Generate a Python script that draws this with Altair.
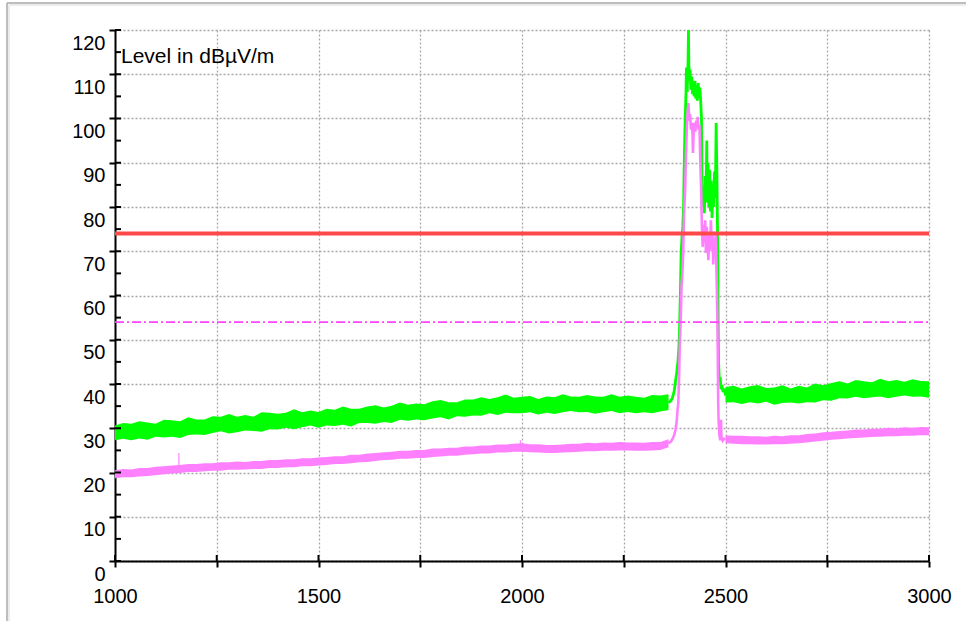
import altair as alt
import pandas as pd

# ---------------- data ----------------
x_ticks = [1000, 1250, 1500, 1750, 2000, 2250, 2500, 2750, 3000]
y_ticks = [0, 5, 10, 15, 20, 25, 30, 35, 40, 45, 50, 55, 60, 65, 70, 75, 80, 85, 90, 95, 100, 105, 110, 115, 120]

# noise floor below the band (MHz, step 20)
floor_left_f = list(range(1000, 2361, 20))
floor_right_f = list(range(2500, 3001, 20))

green_left_hi = [30.6, 31.2, 31.0, 31.6, 31.3, 31.0, 31.9, 31.8, 31.6, 32.5, 32.0, 32.0, 32.7, 32.6, 33.2, 32.6, 33.0,
                 32.6, 33.6, 33.5, 33.3, 33.5, 34.3, 33.6, 34.0, 33.7, 34.4, 34.2, 34.9, 34.4, 34.4, 34.9, 35.2, 34.7,
                 35.1, 35.8, 35.3, 35.6, 35.4, 36.1, 36.4, 35.9, 35.9, 36.5, 36.5, 37.0, 36.6, 37.0, 37.6, 36.9, 37.1,
                 37.3, 36.6, 37.2, 37.0, 37.7, 37.2, 37.1, 37.5, 37.2, 37.1, 37.7, 37.1, 37.4, 37.1, 36.9, 37.5, 37.4,
                 37.7]
green_left_lo = [27.3, 27.6, 27.3, 27.7, 27.4, 28.1, 27.9, 28.1, 27.8, 28.5, 28.6, 28.5, 28.9, 29.3, 28.8, 29.1, 29.5,
                 29.4, 29.2, 29.8, 29.7, 30.1, 29.8, 30.2, 30.6, 30.1, 30.6, 30.5, 30.8, 30.4, 31.2, 31.2, 31.0, 31.4,
                 31.2, 31.9, 31.7, 32.0, 31.8, 32.2, 32.5, 32.0, 32.7, 32.6, 32.9, 32.8, 33.4, 33.0, 33.5, 33.4, 33.4,
                 33.6, 33.1, 33.5, 33.2, 33.6, 33.9, 33.6, 33.7, 33.3, 33.6, 33.9, 33.4, 33.7, 33.4, 33.6, 33.4, 33.8,
                 34.1]
green_right_hi = [39.3, 39.6, 39.0, 39.5, 39.8, 39.1, 39.2, 39.7, 39.0, 39.6, 39.2, 40.1, 39.7, 40.2, 40.6, 40.1, 40.9,
                  40.6, 40.4, 41.2, 40.6, 40.9, 40.5, 41.1, 40.7, 40.6]
green_right_lo = [35.8, 35.9, 35.5, 35.9, 35.6, 36.0, 35.3, 35.7, 35.8, 35.6, 35.9, 35.8, 36.3, 36.2, 36.8, 36.7, 37.1,
                  36.8, 37.0, 37.2, 36.8, 37.1, 37.4, 37.1, 37.2, 36.9]

magenta_left_hi = [20.5, 20.8, 20.7, 21.0, 21.0, 21.3, 21.4, 21.6, 21.7, 21.9, 21.9, 22.1, 22.1, 22.3, 22.3, 22.5, 22.4,
                   22.6, 22.6, 22.8, 22.8, 23.0, 23.0, 23.2, 23.2, 23.4, 23.5, 23.7, 23.7, 24.0, 24.0, 24.3, 24.4, 24.6,
                   24.7, 24.9, 24.9, 25.1, 25.1, 25.4, 25.4, 25.6, 25.6, 25.9, 25.9, 26.1, 26.1, 26.3, 26.3, 26.5, 26.6,
                   26.4, 26.4, 26.2, 26.2, 26.3, 26.5, 26.5, 26.7, 26.6, 26.8, 26.7, 26.9, 26.8, 26.8, 26.7, 26.9, 26.9,
                   27.5]
magenta_left_lo = [18.7, 18.9, 18.9, 19.1, 19.2, 19.4, 19.6, 19.8, 19.9, 20.1, 20.1, 20.3, 20.4, 20.4, 20.6, 20.6, 20.7,
                   20.8, 20.8, 21.0, 21.0, 21.2, 21.2, 21.4, 21.4, 21.6, 21.7, 21.9, 21.9, 22.1, 22.3, 22.4, 22.6, 22.8,
                   22.9, 23.1, 23.1, 23.3, 23.3, 23.5, 23.6, 23.8, 23.8, 24.0, 24.1, 24.3, 24.3, 24.5, 24.5, 24.7, 24.7,
                   24.6, 24.5, 24.4, 24.4, 24.5, 24.6, 24.7, 24.8, 24.8, 24.9, 24.9, 25.0, 25.0, 24.9, 24.9, 25.0, 25.1,
                   25.7]
magenta_right_hi = [28.4, 28.3, 28.3, 28.2, 28.2, 28.1, 28.3, 28.2, 28.4, 28.4, 28.7, 28.8, 29.1, 29.2, 29.4, 29.5, 29.7,
                    29.7, 29.9, 29.9, 30.1, 30.0, 30.2, 30.1, 30.3, 30.2]
magenta_right_lo = [26.6, 26.5, 26.4, 26.4, 26.3, 26.3, 26.4, 26.4, 26.5, 26.6, 26.8, 27.0, 27.2, 27.4, 27.5, 27.7, 27.8,
                    27.9, 28.0, 28.1, 28.2, 28.2, 28.3, 28.3, 28.4, 28.4]

# single-sample spikes on the average trace
spike_f = [1157, 1996]
spike_lo = [20.9, 25.6]
spike_hi = [24.4, 27.3]

# detailed traces across the 2.4 GHz band
green_peak_f = [2360, 2366, 2370, 2374, 2377, 2380, 2383, 2385, 2387, 2389, 2391, 2393, 2395, 2397, 2399, 2401, 2403,
                2404, 2406, 2408, 2409, 2410, 2412, 2413, 2415, 2417, 2419, 2421, 2423, 2425, 2427, 2429, 2431, 2433,
                2435, 2437, 2439, 2441, 2442, 2444, 2446, 2448, 2450, 2452, 2454, 2455, 2457, 2459, 2461, 2463, 2465,
                2467, 2469, 2471, 2473, 2475, 2477, 2479, 2480, 2481, 2482, 2483, 2485, 2487, 2489, 2491, 2494, 2497,
                2500]
green_peak_L = [35.8, 36.2, 37.0, 38.4, 40.5, 42.5, 45.0, 47.5, 52.0, 60.0, 69.6, 73.0, 75.5, 80.0, 92.0, 100.0, 106.0,
                111.5, 106.0, 113.0, 120.0, 112.0, 108.5, 111.0, 106.5, 109.5, 105.5, 108.0, 105.0, 108.5, 104.5, 107.5,
                104.0, 108.0, 105.5, 107.0, 104.0, 100.0, 86.0, 80.0, 84.0, 78.6, 87.0, 81.0, 95.0, 83.0, 90.0, 80.0,
                88.4, 79.0, 86.0, 77.5, 85.0, 80.0, 88.0, 82.0, 99.0, 87.0, 78.0, 69.6, 55.0, 45.0, 40.5, 41.5, 38.8,
                39.8, 38.2, 39.0, 37.4]

magenta_peak_f = [2360, 2366, 2370, 2374, 2377, 2380, 2382, 2384, 2386, 2388, 2390, 2392, 2394, 2396, 2398, 2401, 2403,
                  2405, 2407, 2409, 2411, 2413, 2415, 2417, 2419, 2420, 2422, 2424, 2426, 2428, 2430, 2432, 2434, 2436,
                  2438, 2440, 2442, 2444, 2446, 2448, 2450, 2452, 2454, 2456, 2458, 2460, 2462, 2464, 2466, 2468, 2470,
                  2472, 2474, 2476, 2478, 2480, 2481, 2482, 2483, 2485, 2487, 2488, 2489, 2490, 2493, 2496, 2500]
magenta_peak_L = [26.6, 27.0, 27.6, 28.5, 29.6, 31.5, 34.0, 35.7, 42.0, 50.0, 54.5, 62.0, 65.0, 69.6, 78.0, 84.5, 92.0,
                  98.0, 101.5, 103.5, 99.5, 101.0, 97.5, 99.0, 96.5, 92.2, 97.5, 99.0, 97.0, 99.5, 98.0, 100.4, 97.5,
                  98.5, 90.6, 84.5, 75.5, 71.0, 76.0, 72.0, 77.0, 69.6, 75.5, 71.0, 68.0, 74.0, 70.0, 77.0, 72.0, 74.0,
                  67.0, 73.0, 70.0, 74.0, 65.0, 55.0, 47.0, 36.0, 31.9, 28.5, 27.3, 29.0, 31.9, 28.0, 27.2, 27.6, 27.5]

limit_f = [1000, 3000]
peak_limit = [74, 74]
avg_limit = [54, 54]

title_text = ["Level in dBµV/m"]

# ---------------- tables ----------------
green_floor = pd.DataFrame({
    "f": floor_left_f + floor_right_f,
    "lo": green_left_lo + green_right_lo,
    "hi": green_left_hi + green_right_hi,
    "seg": ["a"] * len(floor_left_f) + ["b"] * len(floor_right_f),
})
magenta_floor = pd.DataFrame({
    "f": floor_left_f + floor_right_f,
    "lo": magenta_left_lo + magenta_right_lo,
    "hi": magenta_left_hi + magenta_right_hi,
    "seg": ["a"] * len(floor_left_f) + ["b"] * len(floor_right_f),
})
green_peak = pd.DataFrame({"f": green_peak_f, "L": green_peak_L})
magenta_peak = pd.DataFrame({"f": magenta_peak_f, "L": magenta_peak_L})
spikes = pd.DataFrame({"f": spike_f, "lo": spike_lo, "hi": spike_hi})
limits = pd.DataFrame({"f": limit_f, "pk": peak_limit, "av": avg_limit})
xt = pd.DataFrame({"f": x_ticks})
yt = pd.DataFrame({"L": y_ticks})

FONT = "Liberation Sans"
W, H = 814, 531

xscale = alt.Scale(domain=[1000, 3000], nice=False, zero=False)
yscale = alt.Scale(domain=[0, 120], nice=False, zero=True)

xaxis = alt.Axis(values=x_ticks, format="d", title=None, grid=True,
                 labelExpr="datum.value % 500 === 0 ? datum.label : ''",
                 labelFlush=False, labelOverlap=False, labelPadding=19,
                 tickSize=6, tickWidth=2, tickColor="black",
                 domainColor="black", domainWidth=2)
yaxis = alt.Axis(values=y_ticks, format="d", title=None, grid=True,
                 labelExpr="datum.value % 10 === 0 ? datum.label : ''",
                 labelBaseline="top", labelAlign="right", labelOffset=3,
                 labelOverlap=False, labelPadding=4,
                 tickSize=6, tickWidth=2, tickColor="black",
                 domainColor="black", domainWidth=2)


def X(field):
    return alt.X(f"{field}:Q", scale=xscale, axis=xaxis)


def Y(field):
    return alt.Y(f"{field}:Q", scale=yscale, axis=yaxis)


green_band = alt.Chart(green_floor).mark_area(color="#00ff00", opacity=1).encode(
    x=X("f"), y=Y("lo"), y2="hi", detail="seg:N")
magenta_band = alt.Chart(magenta_floor).mark_area(color="#ff80ff", opacity=1).encode(
    x=X("f"), y=Y("lo"), y2="hi", detail="seg:N")
green_line = alt.Chart(green_peak).mark_line(color="#00ff00", strokeWidth=2.8).encode(
    x=X("f"), y=Y("L"))
magenta_line = alt.Chart(magenta_peak).mark_line(color="#ff80ff", strokeWidth=2.6).encode(
    x=X("f"), y=Y("L"))
spike_rules = alt.Chart(spikes).mark_rule(color="#ff80ff", strokeWidth=1.2).encode(
    x=X("f"), y=Y("lo"), y2="hi")
red_limit = alt.Chart(limits).mark_line(color="#ff4848", strokeWidth=4).encode(
    x=X("f"), y=Y("pk"))
avg_line = alt.Chart(limits).mark_line(color="#ff44ff", strokeWidth=1.8, strokeDash=[9, 3, 2, 3]).encode(
    x=X("f"), y=Y("av"))

# inward halves of the crossing tick marks
x_inner = alt.Chart(xt).mark_rule(color="black", strokeWidth=2).encode(
    x=X("f"), y=alt.value(H - 6), y2=alt.value(H))
y_inner = alt.Chart(yt).mark_rule(color="black", strokeWidth=2).encode(
    y=Y("L"), x=alt.value(0), x2=alt.value(6))

label = alt.Chart(pd.DataFrame({"t": title_text})).mark_text(
    font=FONT, fontSize=21, align="left", baseline="alphabetic", dx=6, dy=10.5, color="black"
).encode(x=alt.datum(1000, scale=xscale), y=alt.datum(115, scale=yscale), text="t:N")

# outer frame of the picture
frame_df = pd.DataFrame({"k": [0]})
frame_top = alt.Chart(frame_df).mark_rule(color="#a8a8a8", strokeWidth=1.5, clip=False).encode(
    x=alt.value(-108), x2=alt.value(860), y=alt.value(-27))
frame_left = alt.Chart(frame_df).mark_rule(color="#a8a8a8", strokeWidth=1.5, clip=False).encode(
    x=alt.value(-108), y=alt.value(-27), y2=alt.value(600))
frame_top2 = alt.Chart(frame_df).mark_rule(color="#ececec", strokeWidth=2, clip=False).encode(
    x=alt.value(-106), x2=alt.value(860), y=alt.value(-25))
frame_left2 = alt.Chart(frame_df).mark_rule(color="#ececec", strokeWidth=2, clip=False).encode(
    x=alt.value(-106), y=alt.value(-25), y2=alt.value(600))

chart = alt.layer(
    green_band, magenta_band, green_line, magenta_line, spike_rules,
    red_limit, avg_line, x_inner, y_inner, label,
    frame_top2, frame_left2, frame_top, frame_left,
).properties(
    width=W, height=H,
    padding={"left": 115, "top": 30, "right": 37, "bottom": 60},
    autosize=alt.AutoSizeParams(type="none"),
    background="white",
).configure_view(stroke=None).configure_axis(
    labelFont=FONT, labelFontSize=20, labelColor="black",
    gridColor="#a8a8a8", gridDash=[2, 2], gridWidth=1.3,
)

chart.save("out.html", embed_options={"renderer": "svg", "actions": False})
